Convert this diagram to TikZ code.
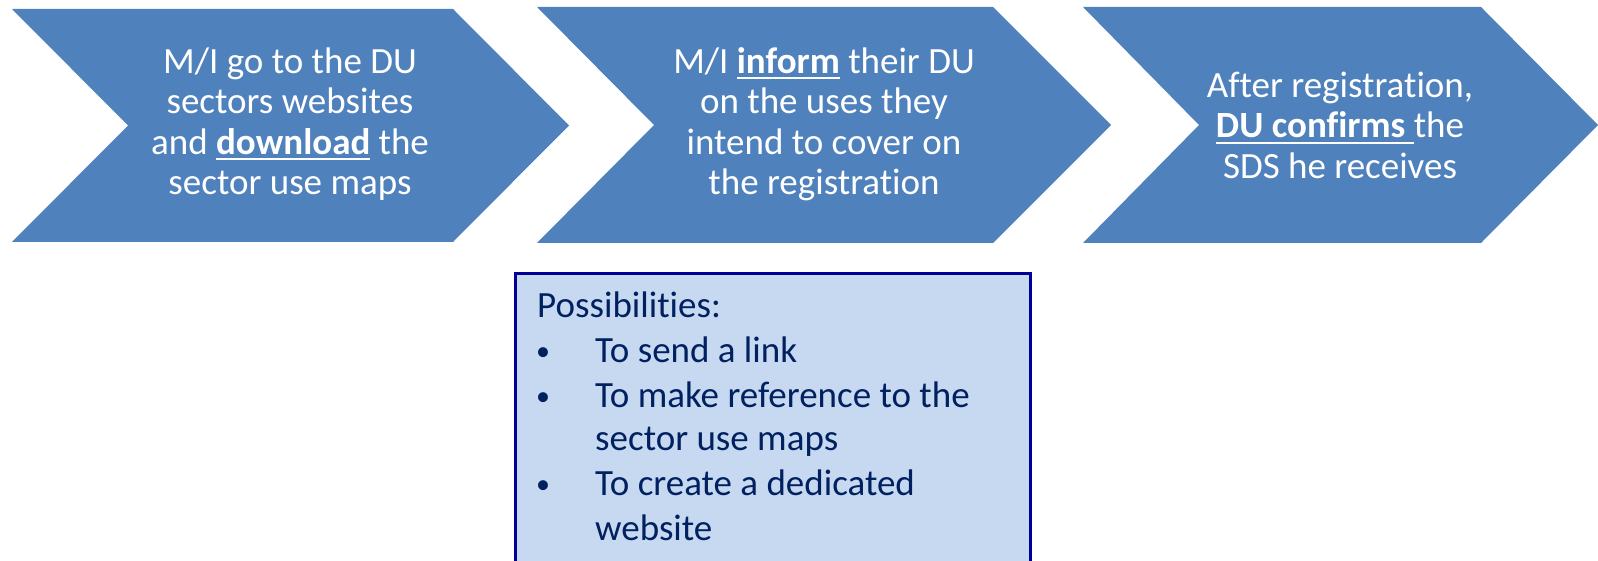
\documentclass[tikz,border=0pt]{standalone}
\usepackage{fontspec}
\setmainfont{Carlito}[Ligatures={NoCommon}]
\usepackage{xcolor}
\usepackage{tikz}
\usetikzlibrary{arrows}

\definecolor{chevblue}{HTML}{4F81BD}
\definecolor{boxfill}{HTML}{C6D9F1}
\definecolor{boxline}{HTML}{000099}
\definecolor{boxtext}{HTML}{002060}

\newcommand{\ulword}[1]{\setbox0\hbox{#1}\rlap{\rule[-6pt]{\wd0}{2pt}}\box0\relax}

\begin{document}
\begin{tikzpicture}[x=1pt,y=-1pt]

    \useasboundingbox (0,0) rectangle (1598,561);

    % the three steps
    \fill[chevblue] (12,9) -- (453,9) -- (569,125.5) -- (453,242)
        -- (12,242) -- (128,125.5) -- cycle;
    \node[align = center,
          text = white,
          font = \fontsize{37}{40.5}\selectfont
          ] (download) at (290,124) {M/I go to the DU\\ sectors websites\\
          and \ulword{\textbf{download}} the\\ sector use maps};

    \fill[chevblue] (537,7) -- (993,7) -- (1111,125) -- (993,243)
        -- (537,243) -- (654,125) -- cycle;
    \node[align = center,
          text = white,
          font = \fontsize{37}{40.5}\selectfont
          ] (inform) at (824,124) {M/I \ulword{\textbf{inform}} their DU\\
          on the uses they\\ intend to cover on\\ the registration};

    \fill[chevblue] (1083,7) -- (1481,7) -- (1598,125) -- (1481,243)
        -- (1083,243) -- (1199,125) -- cycle;
    \node[align = center,
          text = white,
          font = \fontsize{37}{40.5}\selectfont
          ] (confirm) at (1340,125) {After registration,\\
          \ulword{\textbf{DU confirms }}the\\ SDS he receives};

    % possibilities box
    \node[rectangle,
          draw = boxline,
          line width = 3pt,
          fill = boxfill,
          anchor = north west,
          minimum width = 515pt,
          minimum height = 320pt
          ] (poss) at (514,272) {};

    \node[anchor = base west, inner sep = 0, text = boxtext,
          font = \fontsize{37}{44.5}\selectfont] (posstitle) at (537,317) {Possibilities:};

    \node[anchor = base, text = boxtext,
          font = \fontsize{28}{44.5}\selectfont] (b1) at (543,360) {\textbullet};
    \node[anchor = base west, inner sep = 0, text = boxtext,
          font = \fontsize{37}{44.5}\selectfont] (link) at (595,362) {To send a link};

    \node[anchor = base, text = boxtext,
          font = \fontsize{28}{44.5}\selectfont] (b2) at (543,405) {\textbullet};
    \node[anchor = base west, inner sep = 0, text = boxtext,
          font = \fontsize{37}{44.5}\selectfont] (ref) at (595,407) {To make reference to the};
    \node[anchor = base west, inner sep = 0, text = boxtext,
          font = \fontsize{37}{44.5}\selectfont] (ref2) at (595,450) {sector use maps};

    \node[anchor = base, text = boxtext,
          font = \fontsize{28}{44.5}\selectfont] (b3) at (543,493) {\textbullet};
    \node[anchor = base west, inner sep = 0, text = boxtext,
          font = \fontsize{37}{44.5}\selectfont] (web) at (595,495) {To create a dedicated};
    \node[anchor = base west, inner sep = 0, text = boxtext,
          font = \fontsize{37}{44.5}\selectfont] (web2) at (595,540) {website};

\end{tikzpicture}
\end{document}
